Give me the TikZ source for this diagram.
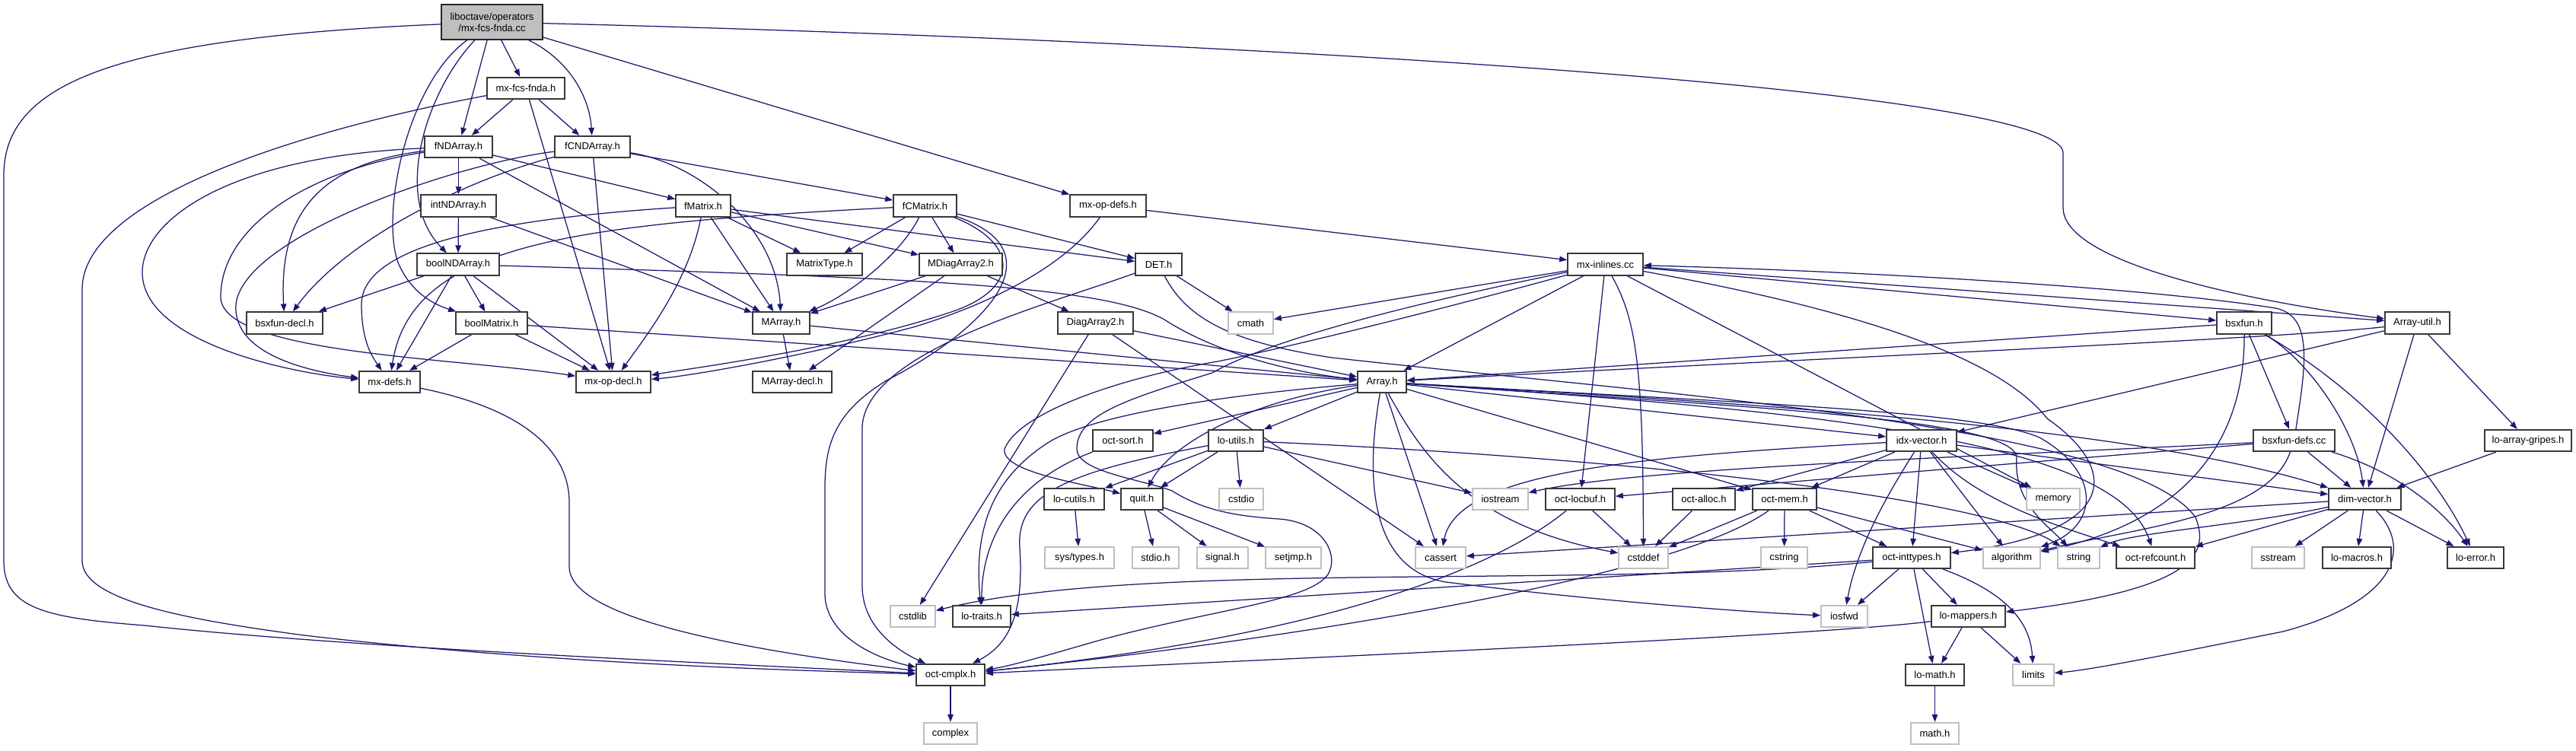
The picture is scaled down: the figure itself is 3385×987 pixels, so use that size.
\documentclass[tikz,border=0pt]{standalone}
\usepackage{fontspec}
\setmainfont{Liberation Sans}
\usetikzlibrary{arrows.meta}
\definecolor{edgeblue}{RGB}{25,25,112}
\definecolor{boxgray}{RGB}{191,191,191}
\definecolor{rootgray}{RGB}{191,191,191}
\pgfdeclarelayer{bglayer}
\pgfdeclarelayer{edgelayer}
\pgfsetlayers{bglayer,edgelayer,main}
\begin{document}
\begin{tikzpicture}[x=1pt,y=-1pt,
  bx/.style={draw=black!78, line width=1.7pt, fill=white, minimum height=28.5pt, inner sep=0pt,
             font=\fontsize{13}{15}\selectfont},
  sx/.style={bx, draw=boxgray},
  rootbox/.style={bx, fill=rootgray, draw=black!85, minimum height=46pt, align=center},
  e/.style={draw=edgeblue, line width=1.25pt, -{Triangle[length=10pt,width=7.5pt]}}]
\begin{pgfonlayer}{bglayer}
\fill[white] (0,0) rectangle (3385,987);
\end{pgfonlayer}
\useasboundingbox (0,0) rectangle (3385,987);

% ---------- nodes ----------
\node[rootbox, minimum width=133pt] (root) at (646.5,29) {liboctave/operators\\/mx-fcs-fnda.cc};
\node[bx, minimum width=102pt] (mxfcsh) at (691,116) {mx-fcs-fnda.h};
\node[bx, minimum width=89pt] (fNDArray) at (602.5,193) {fNDArray.h};
\node[bx, minimum width=99pt] (fCNDArray) at (778.5,193) {fCNDArray.h};
\node[bx, minimum width=99pt] (intNDArray) at (602.5,270.5) {intNDArray.h};
\node[bx, minimum width=72pt] (fMatrix) at (924,270.5) {fMatrix.h};
\node[bx, minimum width=83pt] (fCMatrix) at (1215.5,270.5) {fCMatrix.h};
\node[bx, minimum width=100pt] (mxopdefs) at (1456,270.5) {mx-op-defs.h};
\node[bx, minimum width=108pt] (boolNDArray) at (602,347.5) {boolNDArray.h};
\node[bx, minimum width=99pt] (MatrixType) at (1083.5,347.5) {MatrixType.h};
\node[bx, minimum width=109pt] (MDiagArray2) at (1262.5,347.5) {MDiagArray2.h};
\node[bx, minimum width=61pt] (DET) at (1522.5,347.5) {DET.h};
\node[bx, minimum width=99pt] (mxinlines) at (2109.5,347.5) {mx-inlines.cc};
\node[bx, minimum width=100pt] (bsxfundecl) at (374,424.5) {bsxfun-decl.h};
\node[bx, minimum width=94pt] (boolMatrix) at (646,424.5) {boolMatrix.h};
\node[bx, minimum width=75pt] (MArray) at (1026.5,424.5) {MArray.h};
\node[bx, minimum width=99pt] (DiagArray2) at (1439.5,424.5) {DiagArray2.h};
\node[sx, minimum width=59pt] (cmath) at (1643.5,424.5) {cmath};
\node[bx, minimum width=72pt] (bsxfun) at (2949,424.5) {bsxfun.h};
\node[bx, minimum width=85pt] (Arrayutil) at (3176.5,424.5) {Array-util.h};
\node[bx, minimum width=80pt] (mxdefs) at (512,502) {mx-defs.h};
\node[bx, minimum width=98pt] (mxopdecl) at (806,502) {mx-op-decl.h};
\node[bx, minimum width=104pt] (MArraydecl) at (1041,502) {MArray-decl.h};
\node[bx, minimum width=64pt] (Array) at (1816,502) {Array.h};
\node[bx, minimum width=79pt] (octsort) at (1475.5,579) {oct-sort.h};
\node[bx, minimum width=72pt] (loutils) at (1624,579) {lo-utils.h};
\node[bx, minimum width=92pt] (idxvector) at (2525,579) {idx-vector.h};
\node[bx, minimum width=107pt] (bsxfundefs) at (3014.5,579) {bsxfun-defs.cc};
\node[bx, minimum width=114pt] (loarraygripes) at (3322,579) {lo-array-gripes.h};
\node[bx, minimum width=79pt] (locutils) at (1411.5,656) {lo-cutils.h};
\node[bx, minimum width=55pt] (quit) at (1500.5,656) {quit.h};
\node[sx, minimum width=58pt] (cstdio) at (1631,656) {cstdio};
\node[sx, minimum width=73pt] (iostream) at (1971.5,656) {iostream};
\node[bx, minimum width=91pt] (octlocbuf) at (2076.5,656) {oct-locbuf.h};
\node[bx, minimum width=82pt] (octalloc) at (2239,656) {oct-alloc.h};
\node[bx, minimum width=84pt] (octmem) at (2345,656) {oct-mem.h};
\node[sx, minimum width=70pt] (memory) at (2698,656) {memory};
\node[bx, minimum width=95pt] (dimvector) at (3107.5,656) {dim-vector.h};
\node[sx, minimum width=91pt] (systypes) at (1418.5,733) {sys/types.h};
\node[sx, minimum width=61pt] (stdioh) at (1518.5,733) {stdio.h};
\node[sx, minimum width=67pt] (signalh) at (1606.5,733) {signal.h};
\node[sx, minimum width=73pt] (setjmph) at (1699.5,733) {setjmp.h};
\node[sx, minimum width=66pt] (cassert) at (1893,733) {cassert};
\node[sx, minimum width=65pt] (cstddef) at (2159.5,733) {cstddef};
\node[sx, minimum width=61pt] (cstring) at (2344.5,733) {cstring};
\node[bx, minimum width=102pt] (octinttypes) at (2512,733) {oct-inttypes.h};
\node[sx, minimum width=75pt] (algorithm) at (2643.5,733) {algorithm};
\node[sx, minimum width=55pt] (string) at (2731.5,733) {string};
\node[bx, minimum width=103pt] (octrefcount) at (2832.5,733) {oct-refcount.h};
\node[sx, minimum width=69pt] (sstream) at (2993.5,733) {sstream};
\node[bx, minimum width=90pt] (lomacros) at (3097,733) {lo-macros.h};
\node[bx, minimum width=74pt] (loerror) at (3253,733) {lo-error.h};
\node[sx, minimum width=59pt] (cstdlib) at (1199.5,810) {cstdlib};
\node[bx, minimum width=76pt] (lotraits) at (1290,810) {lo-traits.h};
\node[sx, minimum width=61pt] (iosfwd) at (2423.5,810) {iosfwd};
\node[bx, minimum width=97pt] (lomappers) at (2586.5,810) {lo-mappers.h};
\node[bx, minimum width=90pt] (octcmplx) at (1249,887) {oct-cmplx.h};
\node[bx, minimum width=77pt] (lomath) at (2542.5,887) {lo-math.h};
\node[sx, minimum width=54pt] (limits) at (2672,887) {limits};
\node[sx, minimum width=70pt] (complex) at (1249,964) {complex};
\node[sx, minimum width=63pt] (mathh) at (2542.5,964) {math.h};

% ---------- edges ----------
\begin{pgfonlayer}{edgelayer}
% root
\draw[e] (root) .. controls (150,50) and (5,110) .. (5,230) -- (5,737) .. controls (5,800) and (60,812) .. (190,822) .. controls (450,850) and (900,870) .. (octcmplx);
\draw[e] (root) -- (mxfcsh);
\draw[e] (root) -- (fNDArray);
\draw[e] (root) .. controls (750,80) and (775,130) .. (fCNDArray);
\draw[e] (root) .. controls (560,120) and (515,260) .. (boolNDArray);
\draw[e] (root) .. controls (535,110) and (500,280) .. (523,345) .. controls (540,385) and (570,400) .. (boolMatrix);
\draw[e] (root) -- (mxopdefs);
\draw[e] (root) .. controls (1500,50) and (2700,110) .. (2711,200) -- (2711,273) .. controls (2711,345) and (2950,395) .. (Arrayutil);
% mx-fcs-fnda.h
\draw[e] (mxfcsh) -- (fNDArray);
\draw[e] (mxfcsh) -- (fCNDArray);
\draw[e] (mxfcsh) -- (mxopdecl);
\draw[e] (mxfcsh) .. controls (400,170) and (108,260) .. (108,380) -- (108,737) .. controls (108,790) and (250,815) .. (400,835) .. controls (700,870) and (1000,880) .. (octcmplx);
% fNDArray.h
\draw[e] (fNDArray) -- (intNDArray);
\draw[e] (fNDArray) -- (MArray);
\draw[e] (fNDArray) -- (fMatrix);
\draw[e] (fNDArray) .. controls (300,205) and (185,290) .. (187,360) .. controls (190,450) and (380,490) .. (mxdefs);
\draw[e] (fNDArray) .. controls (400,225) and (290,300) .. (290,390) .. controls (290,465) and (600,470) .. (mxopdecl);
\draw[e] (fNDArray) .. controls (420,215) and (366,280) .. (bsxfundecl);
% fCNDArray.h
\draw[e] (fCNDArray) -- (fCMatrix);
\draw[e] (fCNDArray) .. controls (920,215) and (1020,300) .. (MArray);
\draw[e] (fCNDArray) -- (mxopdecl);
\draw[e] (fCNDArray) .. controls (600,215) and (320,310) .. (310,400) .. controls (305,470) and (420,490) .. (mxdefs);
\draw[e] (fCNDArray) .. controls (600,240) and (450,320) .. (bsxfundecl);
% intNDArray.h
\draw[e] (intNDArray) -- (boolNDArray);
\draw[e] (intNDArray) -- (MArray);
% boolNDArray.h
\draw[e] (boolNDArray) -- (bsxfundecl);
\draw[e] (boolNDArray) -- (mxdefs);
\draw[e] (boolNDArray) -- (boolMatrix);
\draw[e] (boolNDArray) -- (mxopdecl);
\draw[e] (boolNDArray) .. controls (1200,365) and (1450,375) .. (1530,420) .. controls (1600,465) and (1700,490) .. (Array);
% boolMatrix.h
\draw[e] (boolMatrix) -- (mxdefs);
\draw[e] (boolMatrix) -- (mxopdecl);
\draw[e] (boolMatrix) -- (Array);
% fMatrix.h
\draw[e] (fMatrix) -- (MArray);
\draw[e] (fMatrix) -- (MatrixType);
\draw[e] (fMatrix) -- (MDiagArray2);
\draw[e] (fMatrix) -- (DET);
\draw[e] (fMatrix) .. controls (620,290) and (475,330) .. (475,400) .. controls (475,450) and (490,470) .. (mxdefs);
\draw[e] (fMatrix) .. controls (905,370) and (850,440) .. (mxopdecl);
% fCMatrix.h
\draw[e] (fCMatrix) -- (MatrixType);
\draw[e] (fCMatrix) .. controls (1180,340) and (1110,390) .. (MArray);
\draw[e] (fCMatrix) -- (MDiagArray2);
\draw[e] (fCMatrix) -- (DET);
\draw[e] (fCMatrix) .. controls (750,295) and (540,320) .. (mxdefs);
\draw[e] (fCMatrix) .. controls (1340,320) and (1340,380) .. (1250,410) .. controls (1100,460) and (900,485) .. (mxopdecl);
\draw[e] (fCMatrix) .. controls (1390,330) and (1300,430) .. (1165,500) .. controls (1100,540) and (1084,580) .. (1084,640) -- (1084,780) .. controls (1084,835) and (1150,865) .. (octcmplx);
% mx-op-defs.h
\draw[e] (mxopdefs) -- (mxinlines);
\draw[e] (mxopdefs) .. controls (1400,350) and (1300,400) .. (1200,430) .. controls (1050,470) and (900,495) .. (mxopdecl);
% MDiagArray2.h
\draw[e] (MDiagArray2) -- (MArray);
\draw[e] (MDiagArray2) -- (MArraydecl);
\draw[e] (MDiagArray2) -- (DiagArray2);
% DET.h
\draw[e] (DET) -- (cmath);
\draw[e] (DET) .. controls (1380,400) and (1140,460) .. (1133,560) -- (1133,770) .. controls (1133,830) and (1190,860) .. (octcmplx);
\draw[e] (DET) .. controls (1560,420) and (1620,450) .. (1750,470) .. controls (2200,520) and (2800,560) .. (2885,680) .. controls (2905,730) and (2880,775) .. (lomappers);
% MArray.h
\draw[e] (MArray) -- (MArraydecl);
\draw[e] (MArray) -- (Array);
% DiagArray2.h
\draw[e] (DiagArray2) -- (Array);
\draw[e] (DiagArray2) -- (cstdlib);
\draw[e] (DiagArray2) -- (cassert);
% mx-defs.h
\draw[e] (mxdefs) .. controls (700,540) and (748,600) .. (748,660) -- (748,745) .. controls (748,800) and (900,845) .. (octcmplx);
% mx-inlines.cc
\draw[e] (mxinlines) -- (cmath);
\draw[e] (mxinlines) -- (Array);
\draw[e] (mxinlines) -- (octlocbuf);
\draw[e] (mxinlines) .. controls (2150,420) and (2159,480) .. (cstddef);
\draw[e] (mxinlines) -- (memory);
\draw[e] (mxinlines) .. controls (1900,405) and (1700,455) .. (1600,475) .. controls (1480,495) and (1340,540) .. (1320,590) .. controls (1315,620) and (1420,635) .. (quit);
\draw[e] (mxinlines) .. controls (1900,390) and (1680,440) .. (1593,490) .. controls (1480,525) and (1415,545) .. (1415,590) .. controls (1415,620) and (1500,630) .. (1540,645) .. controls (1580,670) and (1620,678) .. (1680,682) .. controls (1740,686) and (1760,730) .. (1745,755) .. controls (1720,790) and (1600,800) .. (1450,840) .. controls (1380,860) and (1330,875) .. (octcmplx);
\draw[e] (mxinlines) .. controls (2400,400) and (2620,460) .. (2690,550) .. controls (2790,620) and (2780,700) .. (octinttypes);
\draw[e] (mxinlines) -- (bsxfun);
\draw[e] (mxinlines) -- (Arrayutil);
% bsxfun-defs.cc
\draw[e] (bsxfundefs) .. controls (3030,480) and (3040,415) .. (2990,405) .. controls (2800,375) and (2400,355) .. (mxinlines);
\draw[e] (bsxfundefs) -- (dimvector);
\draw[e] (bsxfundefs) .. controls (3150,620) and (3210,670) .. (loerror);
\draw[e] (bsxfundefs) .. controls (2980,680) and (2800,695) .. (algorithm);
\draw[e] (bsxfundefs) .. controls (2600,600) and (2150,615) .. (iostream);
\draw[e] (bsxfundefs) -- (octlocbuf);
% bsxfun.h
\draw[e] (bsxfun) -- (Array);
\draw[e] (bsxfun) -- (bsxfundefs);
\draw[e] (bsxfun) .. controls (3030,470) and (3095,560) .. (dimvector);
\draw[e] (bsxfun) .. controls (3100,510) and (3200,620) .. (loerror);
\draw[e] (bsxfun) .. controls (2950,600) and (2850,690) .. (algorithm);
% Array-util.h
\draw[e] (Arrayutil) .. controls (3000,445) and (2400,470) .. (Array);
\draw[e] (Arrayutil) -- (idxvector);
\draw[e] (Arrayutil) -- (dimvector);
\draw[e] (Arrayutil) -- (loarraygripes);
% lo-array-gripes.h
\draw[e] (loarraygripes) -- (dimvector);
% Array.h
\draw[e] (Array) -- (cassert);
\draw[e] (Array) .. controls (1870,600) and (1930,690) .. (cstddef);
\draw[e] (Array) .. controls (1790,650) and (1810,750) .. (1900,765) .. controls (2100,790) and (2300,805) .. (iosfwd);
\draw[e] (Array) -- (idxvector);
\draw[e] (Array) -- (octmem);
\draw[e] (Array) -- (octsort);
\draw[e] (Array) -- (loutils);
\draw[e] (Array) .. controls (1650,525) and (1540,580) .. (quit);
\draw[e] (Array) .. controls (1600,520) and (1440,545) .. (1380,580) .. controls (1300,630) and (1280,700) .. (lotraits);
\draw[e] (Array) .. controls (2300,530) and (2800,560) .. (dimvector);
\draw[e] (Array) .. controls (2300,530) and (2600,540) .. (2680,575) .. controls (2760,620) and (2760,690) .. (algorithm);
\draw[e] (Array) .. controls (2300,535) and (2640,550) .. (2650,600) .. controls (2645,660) and (2690,690) .. (string);
\draw[e] (Array) .. controls (2400,540) and (2780,580) .. (octrefcount);
% lo-utils.h
\draw[e] (loutils) -- (cstdio);
\draw[e] (loutils) -- (quit);
\draw[e] (loutils) -- (locutils);
\draw[e] (loutils) .. controls (1400,620) and (1335,650) .. (1340,720) .. controls (1345,800) and (1330,845) .. (octcmplx);
\draw[e] (loutils) -- (iostream);
\draw[e] (loutils) .. controls (2100,600) and (2600,650) .. (string);
% oct-sort.h
\draw[e] (octsort) .. controls (1340,630) and (1290,700) .. (lotraits);
% lo-cutils.h, quit.h
\draw[e] (locutils) -- (systypes);
\draw[e] (quit) -- (stdioh);
\draw[e] (quit) -- (signalh);
\draw[e] (quit) -- (setjmph);
% idx-vector.h
\draw[e] (idxvector) .. controls (2150,600) and (1915,620) .. (cassert);
\draw[e] (idxvector) -- (octalloc);
\draw[e] (idxvector) -- (octmem);
\draw[e] (idxvector) .. controls (2480,650) and (2440,720) .. (iosfwd);
\draw[e] (idxvector) -- (octinttypes);
\draw[e] (idxvector) -- (memory);
\draw[e] (idxvector) -- (algorithm);
\draw[e] (idxvector) .. controls (2600,660) and (2700,690) .. (octrefcount);
\draw[e] (idxvector) -- (dimvector);
% oct-locbuf.h, oct-alloc.h
\draw[e] (octlocbuf) -- (cstddef);
\draw[e] (octlocbuf) .. controls (1950,760) and (1700,840) .. (octcmplx);
\draw[e] (octalloc) -- (cstddef);
% oct-mem.h
\draw[e] (octmem) -- (cstddef);
\draw[e] (octmem) -- (cstring);
\draw[e] (octmem) -- (octinttypes);
\draw[e] (octmem) -- (algorithm);
\draw[e] (octmem) .. controls (2200,760) and (1700,840) .. (octcmplx);
% dim-vector.h
\draw[e] (dimvector) -- (cassert);
\draw[e] (dimvector) -- (octrefcount);
\draw[e] (dimvector) .. controls (2950,690) and (2800,700) .. (string);
\draw[e] (dimvector) -- (sstream);
\draw[e] (dimvector) -- (lomacros);
\draw[e] (dimvector) -- (loerror);
\draw[e] (dimvector) .. controls (3170,720) and (3150,790) .. (3000,830) .. controls (2850,860) and (2750,880) .. (limits);
% oct-inttypes.h
\draw[e] (octinttypes) -- (iosfwd);
\draw[e] (octinttypes) -- (lomappers);
\draw[e] (octinttypes) -- (lomath);
\draw[e] (octinttypes) .. controls (2640,780) and (2668,820) .. (limits);
\draw[e] (octinttypes) .. controls (2100,775) and (1500,735) .. (cstdlib);
\draw[e] (octinttypes) -- (lotraits);
% lo-mappers.h
\draw[e] (lomappers) -- (lomath);
\draw[e] (lomappers) -- (limits);
\draw[e] (lomappers) .. controls (2400,835) and (1700,865) .. (octcmplx);
% leaves
\draw[e] (lomath) -- (mathh);
\draw[e] (octcmplx) -- (complex);
\end{pgfonlayer}
\end{tikzpicture}
\end{document}
